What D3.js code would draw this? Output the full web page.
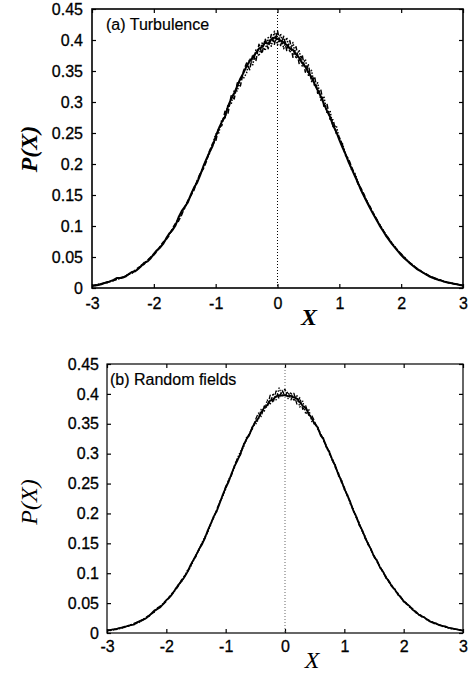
<!DOCTYPE html>
<html>
<head>
<meta charset="utf-8">
<script src="https://cdn.jsdelivr.net/npm/d3@7"></script>
<style>
  html, body { margin: 0; padding: 0; background: #fff; }
  svg { display: block; }
</style>
</head>
<body>
<div id="chart"></div>
<script>
// sample grid: X from -3 to 3, every 0.05
const xGrid = d3.range(121).map((i) => +(-3 + i * 0.05).toFixed(2));

const xTicks = [-3, -2, -1, 0, 1, 2, 3];
const xTickLabels = ['-3', '-2', '-1', '0', '1', '2', '3'];
const yTicks = [0, 0.05, 0.1, 0.15, 0.2, 0.25, 0.3, 0.35, 0.4, 0.45];
const yTickLabels = ['0', '0.05', '0.1', '0.15', '0.2', '0.25', '0.3', '0.35', '0.4', '0.45'];

// (a) turbulence, three overlaid PDFs
const turbSolid = [
  .003, .004, .005, .006, .008, .009, .011, .013, .016, .016,
  .017, .019, .023, .026, .027, .031, .036, .041, .043, .048,
  .055, .061, .065, .071, .080, .088, .093, .101, .114, .124,
  .131, .138, .151, .162, .170, .182, .196, .208, .219, .229,
  .244, .257, .268, .276, .293, .305, .314, .326, .338, .347,
  .358, .366, .371, .379, .386, .389, .396, .394, .401, .404,
  .402, .399, .396, .392, .386, .384, .377, .371, .363, .357,
  .348, .340, .329, .319, .309, .297, .286, .276, .262, .252,
  .239, .227, .216, .203, .192, .181, .170, .158, .148, .138,
  .128, .119, .110, .101, .093, .085, .078, .071, .065, .059,
  .053, .048, .044, .039, .035, .031, .028, .025, .022, .019,
  .017, .015, .013, .012, .010, .009, .008, .007, .006, .005,
  .004
];
const turbDashed = [
  .004, .005, .005, .007, .008, .010, .010, .012, .014, .016,
  .018, .020, .022, .024, .029, .033, .035, .039, .045, .050,
  .053, .059, .067, .074, .078, .085, .096, .104, .108, .118,
  .130, .141, .149, .158, .173, .185, .192, .204, .221, .233,
  .236, .259, .262, .285, .282, .310, .305, .331, .326, .350,
  .363, .352, .377, .366, .393, .378, .402, .386, .409, .393,
  .415, .391, .406, .383, .399, .372, .389, .362, .376, .348,
  .360, .333, .341, .314, .320, .293, .297, .272, .271, .249,
  .243, .231, .214, .208, .195, .183, .168, .161, .151, .139,
  .131, .120, .112, .102, .095, .086, .080, .072, .066, .060,
  .055, .050, .043, .040, .036, .032, .029, .025, .023, .020,
  .018, .016, .014, .012, .011, .009, .008, .007, .006, .005,
  .004
];
const turbDotted = [
  .004, .004, .006, .007, .008, .009, .011, .012, .014, .015,
  .017, .020, .022, .025, .028, .031, .037, .040, .045, .049,
  .054, .060, .066, .072, .079, .087, .094, .103, .112, .121,
  .129, .140, .150, .161, .172, .184, .195, .207, .217, .231,
  .248, .250, .272, .273, .296, .296, .318, .318, .339, .338,
  .347, .370, .360, .384, .374, .395, .383, .404, .390, .414,
  .392, .410, .386, .404, .380, .396, .370, .384, .358, .369,
  .343, .351, .325, .331, .303, .309, .282, .286, .259, .262,
  .241, .233, .216, .206, .190, .185, .172, .159, .147, .140,
  .129, .121, .111, .103, .094, .087, .079, .073, .066, .060,
  .054, .050, .044, .040, .036, .032, .028, .025, .022, .020,
  .017, .015, .014, .012, .010, .009, .008, .007, .006, .005,
  .004
];

// (b) random fields
const randSolid = [
  .004, .005, .006, .006, .008, .009, .010, .012, .013, .014,
  .017, .020, .022, .024, .028, .033, .038, .040, .043, .049,
  .055, .059, .065, .073, .080, .086, .093, .101, .112, .121,
  .130, .140, .148, .159, .172, .183, .195, .204, .217, .231,
  .243, .253, .267, .279, .289, .300, .314, .324, .332, .344,
  .353, .359, .369, .377, .381, .389, .391, .396, .398, .397,
  .398, .396, .397, .394, .392, .386, .380, .376, .367, .359,
  .350, .344, .331, .324, .311, .302, .289, .279, .265, .255,
  .241, .231, .219, .205, .195, .182, .172, .160, .149, .140,
  .128, .121, .110, .103, .093, .087, .078, .073, .065, .060,
  .053, .049, .045, .039, .036, .031, .028, .026, .022, .019,
  .017, .016, .013, .012, .011, .009, .008, .007, .006, .005,
  .004
];
const randDashed = [
  .005, .005, .006, .007, .008, .009, .011, .011, .013, .016,
  .018, .019, .021, .026, .029, .031, .036, .042, .045, .048,
  .053, .061, .067, .071, .078, .088, .095, .100, .110, .122,
  .128, .141, .150, .158, .170, .184, .193, .207, .219, .228,
  .245, .255, .264, .281, .292, .298, .316, .322, .335, .341,
  .356, .368, .362, .380, .377, .398, .385, .405, .392, .406,
  .396, .404, .390, .401, .383, .394, .374, .380, .364, .364,
  .354, .341, .335, .321, .314, .299, .292, .276, .268, .252,
  .244, .228, .220, .204, .196, .180, .173, .158, .151, .138,
  .130, .119, .112, .101, .095, .085, .080, .071, .067, .059,
  .055, .048, .044, .041, .034, .032, .029, .025, .023, .020,
  .018, .015, .014, .012, .010, .009, .008, .007, .006, .005,
  .004
];
const randDotted = [
  .004, .004, .005, .006, .007, .008, .010, .012, .014, .015,
  .016, .018, .023, .025, .027, .032, .035, .041, .045, .050,
  .055, .060, .065, .072, .081, .085, .093, .104, .109, .119,
  .131, .138, .151, .161, .169, .181, .196, .203, .220, .229,
  .240, .257, .265, .277, .293, .304, .310, .327, .330, .346,
  .348, .357, .375, .370, .390, .382, .401, .390, .410, .397,
  .409, .392, .403, .388, .398, .378, .388, .366, .375, .354,
  .349, .346, .330, .326, .309, .304, .287, .281, .263, .257,
  .240, .232, .216, .208, .192, .185, .169, .162, .147, .141,
  .127, .122, .109, .104, .092, .088, .077, .074, .064, .061,
  .052, .050, .043, .040, .035, .031, .027, .026, .021, .020,
  .016, .015, .013, .011, .010, .009, .007, .007, .006, .005,
  .004
];

const W = 471;
const H = 675;

const panels = [
  {
    label: '(a) Turbulence',
    box: { left: 92, right: 463, top: 9, bottom: 288 },
    series: [
      { values: turbSolid, dash: null, width: 2 },
      { values: turbDashed, dash: '5,2', width: 1.5 },
      { values: turbDotted, dash: '1.5,1.5', width: 1.5 }
    ],
    frameWidth: 1.6,
    xPad: 10,
    yPad: 9,
    zeroColor: '#000',
    yLabelY: 149,
    yLabelWeight: 'bold',
    xLabelPos: [309, 325]
  },
  {
    label: '(b) Random fields',
    box: { left: 107, right: 463, top: 364, bottom: 633 },
    series: [
      { values: randSolid, dash: null, width: 1.8 },
      { values: randDashed, dash: '5,2', width: 1.3 },
      { values: randDotted, dash: '1.5,1.5', width: 1.3 }
    ],
    frameWidth: 1.2,
    xPad: 8,
    yPad: 8,
    zeroColor: '#666',
    yLabelY: 502,
    yLabelWeight: 'normal',
    xLabelPos: [312, 668]
  }
];

const svg = d3.select('#chart').append('svg')
    .attr('width', W)
    .attr('height', H)
    .attr('viewBox', [0, 0, W, H]);

const tickFont = '16px "Liberation Sans", Arial, sans-serif';

panels.forEach((p) => {
  const x = d3.scaleLinear().domain([-3, 3]).range([p.box.left, p.box.right]);
  const y = d3.scaleLinear().domain([0, 0.45]).range([p.box.bottom, p.box.top]);
  const g = svg.append('g');

  // axes, ticks pointing into the plot on all four sides
  const styleAxis = (sel) => {
    sel.select('.domain').remove();
    sel.selectAll('line').attr('stroke', '#000').attr('stroke-width', 1.2);
    sel.selectAll('text')
        .attr('fill', '#000')
        .attr('stroke', '#000')
        .attr('stroke-width', 0.3)
        .style('font', tickFont);
  };

  g.append('g')
      .attr('transform', `translate(0,${p.box.bottom})`)
      .call(d3.axisBottom(x).tickValues(xTicks)
          .tickFormat((d, i) => xTickLabels[i])
          .tickSize(-4).tickPadding(p.xPad))
      .call(styleAxis);
  g.append('g')
      .attr('transform', `translate(0,${p.box.top})`)
      .call(d3.axisTop(x).tickValues(xTicks).tickFormat('').tickSize(-4))
      .call(styleAxis);
  g.append('g')
      .attr('transform', `translate(${p.box.left},0)`)
      .call(d3.axisLeft(y).tickValues(yTicks)
          .tickFormat((d, i) => yTickLabels[i])
          .tickSize(-4).tickPadding(p.yPad))
      .call(styleAxis);
  g.append('g')
      .attr('transform', `translate(${p.box.right},0)`)
      .call(d3.axisRight(y).tickValues(yTicks).tickFormat('').tickSize(-4))
      .call(styleAxis);

  // frame
  g.append('rect')
      .attr('x', p.box.left)
      .attr('y', p.box.top)
      .attr('width', p.box.right - p.box.left)
      .attr('height', p.box.bottom - p.box.top)
      .attr('fill', 'none')
      .attr('stroke', '#000')
      .attr('stroke-width', p.frameWidth);

  // dotted line at X = 0
  g.append('line')
      .attr('x1', x(0)).attr('x2', x(0))
      .attr('y1', p.box.top).attr('y2', p.box.bottom)
      .attr('stroke', p.zeroColor)
      .attr('stroke-width', 1)
      .attr('stroke-dasharray', '1,2');

  // curves
  const line = d3.line()
      .x((d, i) => x(xGrid[i]))
      .y((d) => y(d));

  g.append('g')
      .attr('fill', 'none')
      .attr('stroke', '#000')
      .attr('stroke-linejoin', 'round')
      .selectAll('path')
      .data(p.series)
      .join('path')
      .attr('stroke-width', (s) => s.width)
      .attr('stroke-dasharray', (s) => s.dash)
      .attr('d', (s) => line(s.values));

  // panel label
  g.append('text')
      .attr('x', p.box.left + (p.box.left < 100 ? 14 : 3))
      .attr('y', p.box.top + 21)
      .attr('stroke', '#000')
      .attr('stroke-width', 0.2)
      .style('font', tickFont)
      .text(p.label);

  // axis titles
  g.append('text')
      .attr('transform', `translate(37,${p.yLabelY}) rotate(-90)`)
      .attr('text-anchor', 'middle')
      .style('font-family', '"Liberation Serif", "Times New Roman", serif')
      .style('font-style', 'italic')
      .style('font-weight', p.yLabelWeight)
      .style('font-size', '24px')
      .text('P(X)');

  g.append('text')
      .attr('x', p.xLabelPos[0])
      .attr('y', p.xLabelPos[1])
      .attr('text-anchor', 'middle')
      .style('font-family', '"Liberation Serif", "Times New Roman", serif')
      .style('font-style', 'italic')
      .style('font-weight', p.yLabelWeight)
      .style('font-size', '24px')
      .text('X');
});
</script>
</body>
</html>
